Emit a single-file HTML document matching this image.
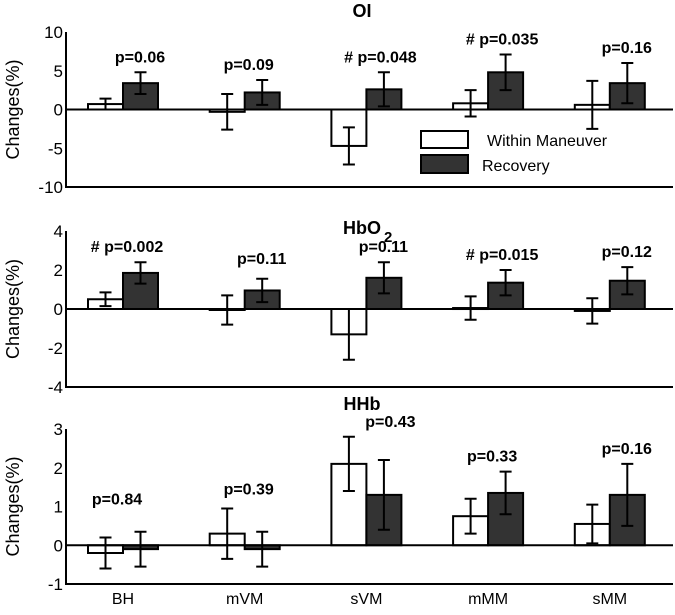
<!DOCTYPE html>
<html><head><meta charset="utf-8"><style>
body{margin:0;background:#fff;}
svg text{font-family:"Liberation Sans",sans-serif;}
</style></head><body>
<svg id="chart" width="675" height="610" xmlns="http://www.w3.org/2000/svg"></svg>
<script>
const categories = ["BH","mVM","sVM","mMM","sMM"];
const oiWithin = [0.7,-0.3,-4.7,0.8,0.6];
const oiWithinErr = [0.7,2.3,2.4,1.7,3.1];
const oiRecovery = [3.4,2.2,2.6,4.8,3.4];
const oiRecoveryErr = [1.4,1.6,2.2,2.3,2.6];
const oiP = ["p=0.06","p=0.09","# p=0.048","# p=0.035","p=0.16"];
const hbWithin = [0.5,-0.05,-1.3,0.05,-0.1];
const hbWithinErr = [0.35,0.75,1.3,0.6,0.65];
const hbRecovery = [1.85,0.95,1.6,1.35,1.45];
const hbRecoveryErr = [0.55,0.6,0.8,0.65,0.7];
const hbP = ["# p=0.002","p=0.11","p=0.11","# p=0.015","p=0.12"];
const hhWithin = [-0.2,0.3,2.1,0.75,0.55];
const hhWithinErr = [0.4,0.65,0.7,0.45,0.5];
const hhRecovery = [-0.1,-0.1,1.3,1.35,1.3];
const hhRecoveryErr = [0.45,0.45,0.9,0.55,0.8];
const hhP = ["p=0.84","p=0.39","p=0.43","p=0.33","p=0.16"];
const oiTicks = [10,5,0,-5,-10];
const hbTicks = [4,2,0,-2,-4];
const hhTicks = [3,2,1,0,-1];

const svg = document.getElementById('chart');
const NS = "http://www.w3.org/2000/svg";
function mk(tag, attrs, text){
  const e = document.createElementNS(NS, tag);
  for (const k in attrs) e.setAttribute(k, attrs[k]);
  if (text !== undefined) e.textContent = text;
  svg.appendChild(e);
  return e;
}
const x0 = 66, x1 = 673, bw = 35;
function xc(i){ return 123 + i*121.7; }

function panel(key, title, titleY, yTop, yBot, vMax, vMin, ticks, within, wErr, rec, rErr, pl, pOffsets, pDy){
  const ys = v => yTop + (vMax - v) * (yBot - yTop) / (vMax - vMin);
  let t = mk('text',{x:362,y:titleY,'font-size':18,'font-weight':'bold','text-anchor':'middle'}, title);
  
  
  let ya = mk('line',{x1:x0,y1:yTop,x2:x0,y2:yBot,stroke:'#000','stroke-width':2});
  
  
  let xa = mk('line',{x1:x0-1,y1:yBot,x2:x1,y2:yBot,stroke:'#000','stroke-width':2});
  
  
  ticks.forEach(v=>{
    let tl = mk('text',{x:x0-3,y:ys(v)+6,'font-size':17,'text-anchor':'end'}, String(v));
    
    
  });
  let yl = mk('text',{transform:`translate(19,${(yTop+yBot)/2}) rotate(-90)`,'font-size':18,'text-anchor':'middle'}, 'Changes(%)');
  
  
  const z = ys(0);
  categories.forEach((c,i)=>{
    [[within,wErr,'#fff',-bw],[rec,rErr,'#333',0]].forEach(([vals,errs,fill,off],s)=>{
      const v = vals[i], y = ys(v);
      let r = mk('rect',{x:xc(i)+off,y:Math.min(y,z),width:bw,height:Math.max(Math.abs(y-z),1),fill:fill,stroke:'#000','stroke-width':2});
      
      
      const cx = xc(i)+off+bw/2, eh = ys(v+errs[i]), el = ys(v-errs[i]);
      let e = mk('path',{d:`M${cx},${eh}V${el}M${cx-6},${eh}H${cx+6}M${cx-6},${el}H${cx+6}`,stroke:'#000','stroke-width':2,fill:'none'});
      
      
    });
    const ry = ys(rec[i]+rErr[i]);
    let p = mk('text',{x:xc(i)+pOffsets[i],y:Math.min(ry, ys(within[i]+wErr[i]))-10+pDy[i],'font-size':16,'font-weight':'bold','text-anchor':'middle'}, pl[i]);
    
    
  });
  mk('line',{x1:x0,y1:z,x2:x1,y2:z,stroke:'#000','stroke-width':2});
}
panel('oi','OI',17,32,187,10,-10,oiTicks,oiWithin,oiWithinErr,oiRecovery,oiRecoveryErr,oiP,[17,4,14,14,17],[0,0,0,0,0]);
panel('hbo2','HbO',234,231,387,4,-4,hbTicks,hbWithin,hbWithinErr,hbRecovery,hbRecoveryErr,hbP,[4,17,17,14,17],[0,-5,0,0,0]);
mk('text',{x:384,y:242,'font-size':15,'font-weight':'bold'},'2');
panel('hhb','HHb',410,429,584,3,-1,hhTicks,hhWithin,hhWithinErr,hhRecovery,hhRecoveryErr,hhP,[-6,4,24,4,17],[-17,-4,0,0,0]);
categories.forEach((c,i)=>{
  let l = mk('text',{x:xc(i),y:604,'font-size':16,'text-anchor':'middle'}, c);
  
  
});
let lb1 = mk('rect',{x:421,y:131,width:47,height:17,fill:'#fff',stroke:'#000','stroke-width':2});


let lb2 = mk('rect',{x:421,y:155,width:47,height:18,fill:'#333',stroke:'#000','stroke-width':2});


let lt1 = mk('text',{x:487,y:146,'font-size':16},'Within Maneuver');


let lt2 = mk('text',{x:482,y:171,'font-size':16},'Recovery');


</script>
</body></html>
